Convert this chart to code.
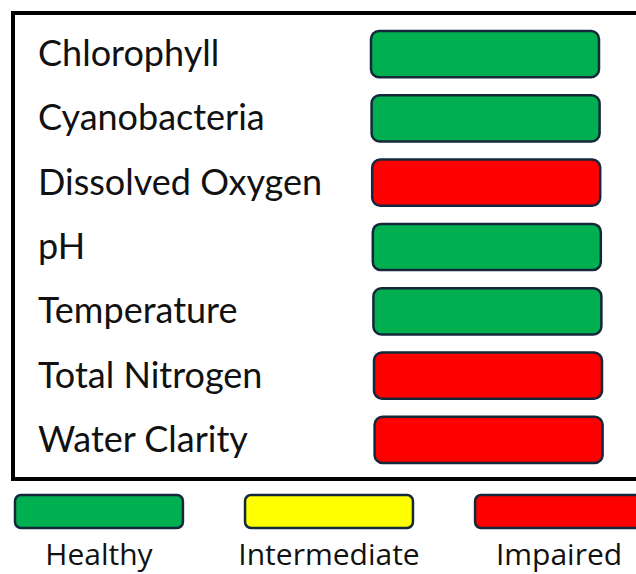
<!DOCTYPE html>
<html>
<head>
<meta charset="utf-8">
<script src="https://cdn.jsdelivr.net/npm/d3@7"></script>
<style>
  body { margin: 0; background: #fff; }
  svg { display: block; }
</style>
</head>
<body>
<div id="chart"></div>
<script>
const width = 636
const height = 574

// indicators and their status
const indicators = [
  'Chlorophyll',
  'Cyanobacteria',
  'Dissolved Oxygen',
  'pH',
  'Temperature',
  'Total Nitrogen',
  'Water Clarity'
]
const statuses = ['Healthy', 'Healthy', 'Impaired', 'Healthy', 'Healthy', 'Impaired', 'Impaired']

// legend categories
const legendLabels = ['Healthy', 'Intermediate', 'Impaired']
const legendColors = ['#00b050', '#ffff00', '#ff0000']

const colorScale = d3
  .scaleOrdinal()
  .domain(legendLabels)
  .range(legendColors)

const svg = d3
  .select('#chart')
  .append('svg')
  .attr('width', width)
  .attr('height', height)

// outer frame
svg
  .append('rect')
  .attr('x', 13)
  .attr('y', 13)
  .attr('width', 700)
  .attr('height', 466)
  .attr('fill', 'none')
  .attr('stroke', '#000')
  .attr('stroke-width', 4)

const yScale = d3
  .scaleBand()
  .domain(indicators)
  .range([31, 463])
  .paddingInner(0.282)

const rows = svg
  .selectAll('.row')
  .data(indicators)
  .enter()
  .append('g')
  .attr('class', 'row')
  .attr('transform', d => `translate(0, ${yScale(d)})`)

rows
  .append('text')
  .attr('x', 38)
  .attr('y', yScale.bandwidth() / 2 + 12)
  .attr('font-family', 'Lato, sans-serif')
  .attr('font-size', 36)
  .attr('fill', '#111')
  .text(d => d)

// bars drift right a little going down, as in the original
rows
  .append('rect')
  .attr('x', (d, i) => 371 + i * 0.6)
  .attr('y', 0)
  .attr('width', 228)
  .attr('height', yScale.bandwidth())
  .attr('rx', 8)
  .attr('fill', (d, i) => colorScale(statuses[i]))
  .attr('stroke', '#13283a')
  .attr('stroke-width', 2.5)

// legend
const xLegend = d3
  .scaleBand()
  .domain(legendLabels)
  .range([15, 643])
  .paddingInner(0.27)

const legend = svg
  .selectAll('.legend')
  .data(legendLabels)
  .enter()
  .append('g')
  .attr('class', 'legend')
  .attr('transform', d => `translate(${xLegend(d)}, 0)`)

legend
  .append('rect')
  .attr('x', 0)
  .attr('y', 495)
  .attr('width', xLegend.bandwidth())
  .attr('height', 33)
  .attr('rx', 6)
  .attr('fill', d => colorScale(d))
  .attr('stroke', '#13283a')
  .attr('stroke-width', 2.5)

legend
  .append('text')
  .attr('x', xLegend.bandwidth() / 2)
  .attr('y', 565)
  .attr('text-anchor', 'middle')
  .attr('font-family', '"Open Sans", sans-serif')
  .attr('font-size', 30)
  .attr('fill', '#111')
  .text(d => d)
</script>
</body>
</html>
